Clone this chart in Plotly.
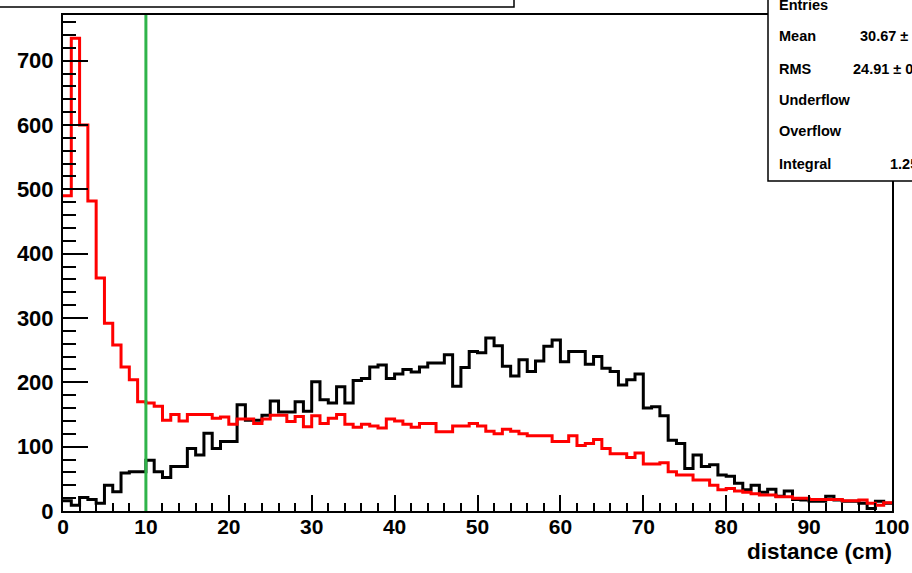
import plotly.graph_objects as go

# Histogram binning: 100 bins of width 1 cm from 0 to 100 cm
bin_low_edges = list(range(0, 100))
bin_upper_edge = 100

# Counts per bin (red histogram, the one with the statistics box)
red_counts = [
    490, 735, 600, 482, 362, 292, 258, 224, 204, 170,
    168, 163, 141, 150, 140, 150, 150, 150, 144, 146,
    135, 143, 143, 136, 143, 149, 149, 139, 147, 131,
    148, 136, 144, 150, 135, 130, 135, 132, 129, 143,
    140, 135, 130, 136, 136, 123, 123, 132, 132, 136,
    132, 124, 120, 127, 124, 120, 117, 117, 117, 108,
    108, 117, 102, 105, 111, 97, 89, 89, 83, 90,
    73, 73, 75, 61, 56, 56, 48, 48, 40, 33,
    35, 31, 29, 27, 25, 25, 22, 22, 20, 20,
    18, 18, 18, 18, 16, 16, 17, 12, 9, 13,
]

# Counts per bin (black histogram)
black_counts = [
    16, 9, 21, 18, 12, 40, 30, 59, 61, 61,
    79, 61, 52, 69, 69, 97, 87, 121, 97, 108,
    108, 165, 141, 141, 149, 171, 154, 154, 170, 155,
    201, 173, 168, 193, 168, 203, 206, 224, 227, 206,
    213, 220, 216, 224, 230, 230, 243, 194, 223, 248,
    246, 269, 257, 225, 210, 235, 217, 233, 256, 266,
    232, 248, 248, 228, 240, 222, 217, 196, 204, 213,
    160, 162, 148, 110, 105, 66, 87, 69, 72, 56,
    54, 43, 33, 40, 29, 34, 23, 31, 18, 17,
    15, 15, 23, 17, 15, 15, 12, 4, 15, 12,
]

cut_value = 10          # vertical cut line (cm)
y_axis_max = 771

x_ticks = [0, 10, 20, 30, 40, 50, 60, 70, 80, 90, 100]
y_ticks = [0, 100, 200, 300, 400, 500, 600, 700]

stats_labels = ["Entries", "Mean", "RMS", "Underflow", "Overflow", "Integral"]
stats_values = ["12571", "30.67 \u00b1 0.22", "24.91 \u00b1 0.16", "0", "0", "1.257e+04"]

FONT = "Liberation Sans, Arial, Helvetica, sans-serif"

# Pixel geometry of the frame inside the 912x573 canvas
W, H = 912, 573
L, R, T, B = 63, 892, 15, 511


def px_x(px):
    return (px - L) / (R - L)


def px_y(py):
    return (B - py) / (B - T)


def step_xy(counts):
    xs = bin_low_edges + [bin_upper_edge]
    ys = list(counts) + [counts[-1]]
    return xs, ys


fig = go.Figure()

bx, by = step_xy(black_counts)
fig.add_trace(go.Scatter(x=bx, y=by, mode="lines", line=dict(color="black", width=3, shape="hv"),
                         showlegend=False, hoverinfo="skip"))
rx, ry = step_xy(red_counts)
fig.add_trace(go.Scatter(x=rx, y=ry, mode="lines", line=dict(color="#ff0000", width=3, shape="hv"),
                         showlegend=False, hoverinfo="skip"))

shapes = [
    # cut line
    dict(type="line", xref="x", yref="y domain", x0=cut_value, x1=cut_value, y0=0, y1=1,
         line=dict(color="#2fb44a", width=3), layer="above"),
    # title box (mostly above the canvas)
    dict(type="rect", xref="paper", yref="paper", x0=px_x(-20), x1=px_x(514), y0=px_y(7), y1=px_y(-30),
         fillcolor="white", line=dict(color="black", width=1.5), layer="above"),
    # statistics box
    dict(type="rect", xref="paper", yref="paper", x0=px_x(768), x1=px_x(960), y0=px_y(181), y1=px_y(-30),
         fillcolor="white", line=dict(color="black", width=1.5), layer="above"),
]

annotations = []
row_y = [5, 36, 69, 100, 131, 164]
value_x = [940, 858, 851, 940, 940, 888]
for lab, val, yy, vx in zip(stats_labels, stats_values, row_y, value_x):
    annotations.append(dict(xref="paper", yref="paper", x=px_x(777), y=px_y(yy), text=lab,
                            showarrow=False, xanchor="left", yanchor="middle",
                            font=dict(family=FONT, size=14.5, color="black", weight="bold")))
    annotations.append(dict(xref="paper", yref="paper", x=px_x(vx), y=px_y(yy), text=val,
                            showarrow=False, xanchor="left", yanchor="middle",
                            font=dict(family=FONT, size=14.5, color="black", weight="bold")))

annotations.append(dict(xref="paper", yref="paper", x=px_x(894), y=px_y(551), text="distance (cm)",
                        showarrow=False, xanchor="right", yanchor="middle",
                        font=dict(family=FONT, size=22.5, color="black", weight="bold")))

fig.update_layout(
    width=W, height=H,
    margin=dict(l=L, r=W - R, t=T, b=H - B, autoexpand=False),
    paper_bgcolor="white", plot_bgcolor="white",
    shapes=shapes, annotations=annotations,
    xaxis=dict(range=[0, 100], tickvals=x_ticks, ticktext=[str(v) for v in x_ticks],
               ticks="inside", ticklen=16, tickwidth=1.5, tickcolor="black",
               minor=dict(dtick=2, ticks="inside", ticklen=8, tickwidth=1.5, tickcolor="black"),
               showline=True, linecolor="black", linewidth=2, mirror=True, showgrid=False,
               zeroline=False, automargin=False, ticklabelstandoff=-4,
               tickfont=dict(family=FONT, size=21, color="black", weight="bold")),
    yaxis=dict(range=[0, y_axis_max], tickvals=y_ticks, ticktext=[str(v) for v in y_ticks],
               ticks="inside", ticklen=25, tickwidth=1.5, tickcolor="black",
               minor=dict(dtick=20, ticks="inside", ticklen=13, tickwidth=1.5, tickcolor="black"),
               showline=True, linecolor="black", linewidth=2, mirror=True, showgrid=False,
               zeroline=False, automargin=False, ticklabelstandoff=3,
               tickfont=dict(family=FONT, size=22, color="black", weight="bold")),
)

fig.write_html("out.html")
